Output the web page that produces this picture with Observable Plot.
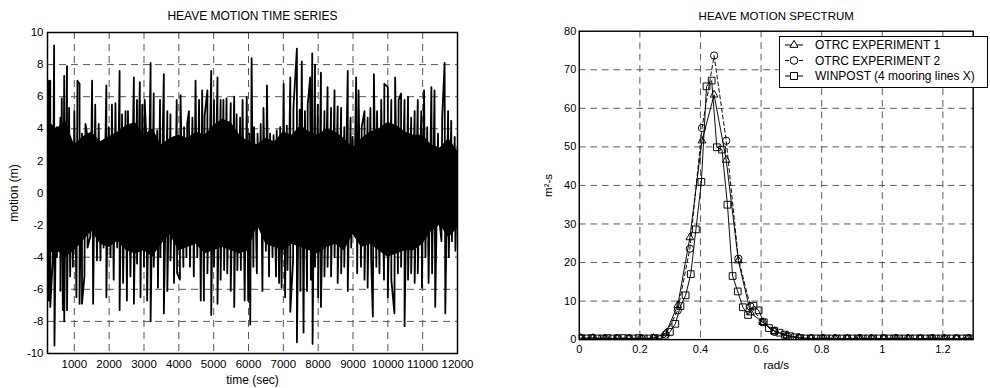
<!DOCTYPE html>
<html><head><meta charset="utf-8">
<script src="https://cdn.jsdelivr.net/npm/d3@7"></script>
<script src="https://cdn.jsdelivr.net/npm/@observablehq/plot@0.6"></script>
<style>
html,body{margin:0;padding:0;background:#fff;}
#wrap{position:relative;width:990px;height:388px;overflow:hidden;background:#fff;font-family:"Liberation Sans",Arial,Helvetica,sans-serif;}
#left{position:absolute;left:0;top:0;}
#right{position:absolute;left:500px;top:0;}
#legend{position:absolute;left:779px;top:36px;}
svg{display:block;}
</style></head><body>
<div id="wrap"><div id="left"></div><div id="right"></div><div id="legend"></div></div>
<script>
// ---------- LEFT PANEL DATA: heave motion time series (upper / lower spike envelope) ----------
const hiTime = [260,310,420,500,600,640,710,790,850,930,
1000,1090,1150,1220,1320,1380,1510,1600,1700,1800,
1920,1990,2080,2180,2300,2370,2470,2540,2710,2800,
2880,2950,3020,3070,3190,3280,3380,3460,3570,3670,
3760,3860,3940,4050,4150,4240,4290,4390,4480,4580,
4670,4740,4820,4930,5010,5110,5200,5280,5370,5490,
5590,5660,5760,5830,5950,6020,6090,6160,6260,6350,
6430,6530,6620,6720,6810,6910,7010,7100,7200,7290,
7390,7470,7530,7620,7700,7770,7830,7910,7990,8080,
8180,8270,8370,8470,8560,8660,8750,8850,8930,8990,
9090,9160,9250,9330,9420,9500,9600,9690,9810,9900,
10000,10100,10210,10310,10380,10480,10580,10670,10770,10860,
10960,11040,11130,11250,11340,11440,11560,11630,11730,11820,
11920,12000];
const hiValue = [7.0,7.0,9.2,4.1,4.7,5.9,7.3,7.9,5.3,2.6,
5.1,7.0,6.8,3.7,4.3,3.5,7.0,5.5,4.3,3.0,
6.7,4.1,5.5,5.6,7.6,4.9,5.1,5.1,7.2,5.8,
6.9,5.5,5.8,3.3,8.1,6.2,3.9,5.8,7.4,5.1,
4.9,3.5,5.8,6.1,4.1,4.3,5.1,4.7,7.0,5.8,
6.4,4.8,6.4,7.6,5.8,7.2,5.8,5.8,5.9,5.6,
6.0,4.9,4.7,5.8,6.0,3.7,8.4,4.1,3.7,4.3,
5.3,6.7,3.7,3.6,3.9,4.1,6.8,4.2,7.2,5.3,
9.0,5.2,8.2,5.1,5.5,7.2,8.7,8.0,5.5,7.5,
5.1,6.6,5.3,6.4,5.4,5.3,4.1,7.6,4.7,3.5,
7.2,6.4,4.1,5.1,4.7,5.3,7.4,5.1,5.8,6.8,
6.6,5.8,7.2,5.8,6.2,5.8,6.0,4.7,5.1,5.8,
5.1,6.4,4.1,6.6,6.4,3.7,4.7,8.1,5.1,4.5,
3.5,2.9];
const loTime = [260,310,380,430,500,600,670,710,790,880,
960,1060,1150,1220,1290,1380,1460,1540,1650,1750,
1840,1920,2040,2130,2230,2300,2400,2510,2610,2710,
2800,2900,3000,3090,3190,3280,3400,3470,3570,3670,
3760,3860,3950,4030,4130,4220,4320,4430,4530,4630,
4720,4820,4930,5010,5110,5200,5300,5390,5490,5590,
5680,5780,5890,5990,6050,6140,6240,6310,6400,6500,
6590,6690,6790,6880,6950,7050,7120,7200,7280,7390,
7490,7580,7680,7790,7840,7910,8000,8080,8180,8270,
8370,8470,8560,8660,8750,8850,8950,9020,9120,9230,
9330,9420,9520,9570,9670,9760,9890,10000,10100,10190,
10290,10380,10480,10580,10670,10770,10860,10980,11080,11170,
11270,11360,11460,11540,11650,11750,11840,11940,12000];
const loValue = [-6.7,-7.1,-4.2,-9.5,-4.0,-6.1,-7.3,-8.0,-7.3,-5.2,
-4.6,-6.5,-6.9,-6.9,-5.2,-3.4,-2.7,-6.9,-4.2,-4.2,
-3.4,-6.5,-4.0,-5.4,-3.4,-7.3,-5.6,-6.7,-5.2,-6.9,
-4.4,-6.5,-4.6,-6.7,-8.0,-4.6,-5.9,-4.0,-7.5,-6.1,
-4.2,-5.6,-5.0,-5.4,-4.6,-4.0,-4.6,-5.2,-4.0,-6.7,
-6.7,-5.0,-7.6,-4.6,-6.9,-5.4,-4.8,-5.0,-6.1,-7.1,
-4.8,-4.8,-6.7,-6.7,-8.2,-4.6,-5.0,-1.3,-6.1,-3.6,
-5.2,-4.0,-5.2,-5.6,-5.9,-6.5,-4.8,-7.4,-4.2,-9.3,
-6.1,-8.7,-6.1,-5.4,-9.4,-4.6,-6.5,-7.1,-5.2,-4.6,
-5.2,-4.0,-5.6,-5.0,-4.6,-6.1,-3.4,-2.5,-5.0,-4.6,
-5.4,-5.9,-4.0,-7.7,-4.6,-5.0,-5.4,-6.5,-5.4,-7.5,
-5.0,-4.6,-8.3,-5.4,-5.0,-5.6,-5.0,-5.9,-4.0,-5.6,
-5.0,-7.1,-1.3,-3.0,-7.5,-4.0,-3.0,-3.6,-1.9];
// solid black mass of the trace (top and bottom edge)
const coreTime = [230,500,750,1000,1250,1500,1750,2000,2250,2500,2750,3000,3250,3500,3750,4000,4250,4500,4750,5000,5250,5500,5750,6000,6250,6500,6750,7000,7250,7500,7750,8000,8250,8500,8750,9000,9250,9500,9750,10000,10250,10500,10750,11000,11250,11500,11750,12000];
const coreHi = [4.5,4.0,4.5,3.0,3.5,3.8,3.2,3.5,3.8,4.2,4.4,3.6,4.0,3.0,3.4,3.6,3.4,3.8,3.6,4.2,4.6,4.4,3.6,3.2,3.0,3.4,3.2,3.8,3.6,4.2,3.8,3.6,4.0,3.8,3.4,2.8,3.4,3.8,4.0,4.4,4.2,3.8,3.6,3.6,3.0,2.8,3.4,2.6];
const coreLo = [-3.8,-3.6,-4.0,-3.6,-3.0,-2.4,-3.2,-3.4,-3.0,-3.6,-3.8,-3.6,-4.0,-3.2,-2.6,-3.6,-3.4,-3.2,-3.8,-3.6,-3.4,-3.6,-3.8,-3.6,-2.0,-3.2,-3.4,-3.6,-3.2,-3.4,-3.6,-3.8,-3.4,-3.2,-3.6,-2.6,-3.4,-3.2,-3.6,-4.0,-3.8,-3.6,-3.6,-3.2,-2.4,-2.0,-2.8,-2.2];
const timeTicks = [1000,2000,3000,4000,5000,6000,7000,8000,9000,10000,11000,12000];
const motionTicks = [-10,-8,-6,-4,-2,0,2,4,6,8,10];
const timeGrid = [1000,2000,3000,4000,5000,6000,7000,8000,9000,10000,11000];
const motionGrid = [-8,-6,-4,-2,0,2,4,6,8];

// ---------- RIGHT PANEL DATA: heave motion spectrum ----------
const expFreq = [0.005,0.045,0.085,0.125,0.165,0.205,0.245,0.285,0.325,0.365,0.405,0.445,0.485,0.525,0.565,0.605,0.645,0.685,0.725,0.765,0.805,0.845,0.885,0.925,0.965,1.005,1.045,1.085,1.125,1.165,1.205,1.245,1.285,1.325,1.365];
const exp1Value = [0.4,0.4,0.3,0.3,0.3,0.3,0.4,1.6,8.9,26.5,51.6,63.5,46.6,20.5,7.0,4.5,2.2,1.0,0.5,0.3,0.3,0.3,0.3,0.3,0.3,0.3,0.3,0.3,0.3,0.3,0.3,0.3,0.3,0.3,0.3];
const exp2Value = [0.3,0.4,0.3,0.4,0.3,0.3,0.3,1.3,7.6,23.6,54.9,73.7,51.6,21.0,8.6,4.6,2.0,1.0,0.5,0.3,0.4,0.3,0.3,0.4,0.3,0.3,0.4,0.3,0.3,0.4,0.3,0.3,0.4,0.3,0.3];
const winFreq = [0.007,0.024,0.041,0.059,0.076,0.093,0.110,0.127,0.145,0.162,0.179,0.196,0.213,0.231,0.248,0.265,0.282,0.299,0.317,0.334,0.351,0.368,0.385,0.403,0.420,0.437,0.454,0.471,0.489,0.506,0.523,0.540,0.557,0.575,0.592,0.609,0.626,0.643,0.661,0.678,0.695,0.712,0.729,0.747,0.764,0.781,0.798,0.815,0.833,0.850,0.867,0.884,0.901,0.919,0.936,0.953,0.970,0.987,1.005,1.022,1.039,1.056,1.073,1.091,1.108,1.125,1.142,1.159,1.177,1.194,1.211,1.228,1.245,1.263,1.280,1.297,1.314,1.331,1.349,1.366,1.383,1.400];
const winValue = [0.4,0.3,0.4,0.3,0.3,0.4,0.3,0.3,0.4,0.3,0.3,0.4,0.3,0.3,0.4,0.3,0.6,2.0,4.1,8.7,11.5,17.0,28.6,40.9,65.7,67.2,49.9,49.3,35.0,16.5,12.5,8.4,6.4,8.8,7.6,4.5,3.0,2.3,1.8,1.3,0.9,0.6,0.4,0.3,0.3,0.3,0.3,0.3,0.3,0.3,0.3,0.3,0.3,0.3,0.3,0.3,0.3,0.3,0.3,0.3,0.3,0.3,0.3,0.3,0.3,0.3,0.3,0.3,0.3,0.3,0.3,0.3,0.3,0.3,0.3,0.3,0.3,0.3,0.3,0.3,0.3,0.3];
const freqTicks = [0,0.2,0.4,0.6,0.8,1,1.2];
const specTicks = [0,10,20,30,40,50,60,70,80];
const freqGrid = [0.2,0.4,0.6,0.8,1,1.2];
const specGrid = [10,20,30,40,50,60,70];
const seriesNames = ["OTRC EXPERIMENT 1","OTRC EXPERIMENT 2","WINPOST (4 mooring lines X)"];

// ---------- build tables ----------
const motion = [
  ...hiTime.map((t, i) => ({t, v: hiValue[i], o: 0})),
  ...loTime.map((t, i) => ({t, v: loValue[i], o: 1}))
].sort((a, b) => a.t - b.t || a.o - b.o);
const core = coreTime.map((t, i) => ({t, hi: coreHi[i], lo: coreLo[i]}));
const exp1 = expFreq.map((f, i) => ({f, s: exp1Value[i]}));
const exp2 = expFreq.map((f, i) => ({f, s: exp2Value[i]}));
const win = winFreq.map((f, i) => ({f, s: winValue[i]}));

const FONT = '"Liberation Sans", Arial, Helvetica, sans-serif';
const gridStyle = {stroke: "#555", strokeWidth: 1, strokeDasharray: "7,5"};
const styleBase = {fontFamily: FONT, fontSize: "11.5px", background: "transparent", color: "#000", overflow: "visible"};

const left = Plot.plot({
  width: 500, height: 388,
  marginLeft: 47, marginRight: 43, marginTop: 32, marginBottom: 35,
  style: styleBase,
  x: {domain: [230, 12000], ticks: timeTicks, tickFormat: d => String(d), tickSize: 0, tickPadding: 6, label: null},
  y: {domain: [-10, 10], ticks: motionTicks, tickFormat: d => String(d), tickSize: 0, tickPadding: 4, label: null},
  marks: [
    Plot.ruleX(timeGrid, gridStyle),
    Plot.ruleY(motionGrid, gridStyle),
    Plot.areaY(core, {x: "t", y1: "lo", y2: "hi", fill: "#000", curve: "linear", clip: true}),
    Plot.line(motion, {x: "t", y: "v", stroke: "#000", strokeWidth: 1.8, clip: true}),
    Plot.frame({stroke: "#000", strokeWidth: 1.5}),
    Plot.text(["HEAVE MOTION TIME SERIES"], {frameAnchor: "top", dy: -16, textAnchor: "middle", lineAnchor: "middle", fontSize: 12}),
    Plot.text(["time (sec)"], {frameAnchor: "bottom", dy: 27, textAnchor: "middle", lineAnchor: "middle", fontSize: 12}),
    Plot.text(["motion (m)"], {frameAnchor: "left", dx: -33, rotate: -90, textAnchor: "middle", lineAnchor: "middle", fontSize: 12})
  ]
});
document.getElementById("left").append(left);

const dotOpts = {x: "f", y: "s", stroke: "#000", fill: "none", strokeWidth: 1, clip: true};
const right = Plot.plot({
  width: 510, height: 388,
  marginLeft: 82, marginRight: 18, marginTop: 32, marginBottom: 35,
  style: styleBase,
  x: {domain: [0, 1.3], ticks: freqTicks, tickFormat: d => String(+d.toFixed(1)), tickSize: 0, tickPadding: 6, label: null},
  y: {domain: [0, 80], ticks: specTicks, tickFormat: d => String(d), tickSize: 0, tickPadding: 3, label: null},
  marks: [
    Plot.ruleX(freqGrid, gridStyle),
    Plot.ruleY(specGrid, gridStyle),
    Plot.line(win, {x: "f", y: "s", stroke: "#000", strokeWidth: 1, clip: true}),
    Plot.line(exp1, {x: "f", y: "s", stroke: "#000", strokeWidth: 1, clip: true}),
    Plot.line(exp2, {x: "f", y: "s", stroke: "#000", strokeWidth: 1, strokeDasharray: "4,3", clip: true}),
    Plot.dot(win, {...dotOpts, symbol: "square", r: 3.95}),
    Plot.dot(exp1, {...dotOpts, symbol: "triangle", r: 3.0}),
    Plot.dot(exp2, {...dotOpts, symbol: "circle", r: 3.8}),
    Plot.frame({stroke: "#000", strokeWidth: 1.5}),
    Plot.text(["HEAVE MOTION SPECTRUM"], {frameAnchor: "top", dy: -16, textAnchor: "middle", lineAnchor: "middle", fontSize: 12}),
    Plot.text(["rad/s"], {frameAnchor: "bottom", dy: 27, textAnchor: "middle", lineAnchor: "middle", fontSize: 12}),
    Plot.text(["m²-s"], {frameAnchor: "left", dx: -32, rotate: -90, textAnchor: "middle", lineAnchor: "middle", fontSize: 12})
  ]
});
document.getElementById("right").append(right);

// ---------- legend ----------
const legendSymbols = [d3.symbolTriangle, d3.symbolCircle, d3.symbolSquare];
const legendSizes = [Math.PI * 3.0 * 3.0, Math.PI * 3.8 * 3.8, Math.PI * 3.95 * 3.95];
const legendDash = [null, "4,3", null];
const lg = d3.select("#legend").append("svg").attr("width", 210).attr("height", 53);
lg.append("rect").attr("x", 0.5).attr("y", 0.5).attr("width", 208).attr("height", 51)
  .attr("fill", "#fff").attr("stroke", "#000").attr("stroke-width", 1);
seriesNames.forEach((name, i) => {
  const y = 9 + i * 15.5;
  lg.append("line").attr("x1", 6).attr("x2", 24).attr("y1", y).attr("y2", y)
    .attr("stroke", "#000").attr("stroke-dasharray", legendDash[i]);
  lg.append("path").attr("d", d3.symbol(legendSymbols[i], legendSizes[i])())
    .attr("transform", `translate(15,${y})`).attr("fill", "#fff").attr("stroke", "#000");
  lg.append("text").attr("x", 36).attr("y", y).attr("dy", "0.35em")
    .attr("font-family", FONT).attr("font-size", 12).text(name);
});
</script></body></html>
